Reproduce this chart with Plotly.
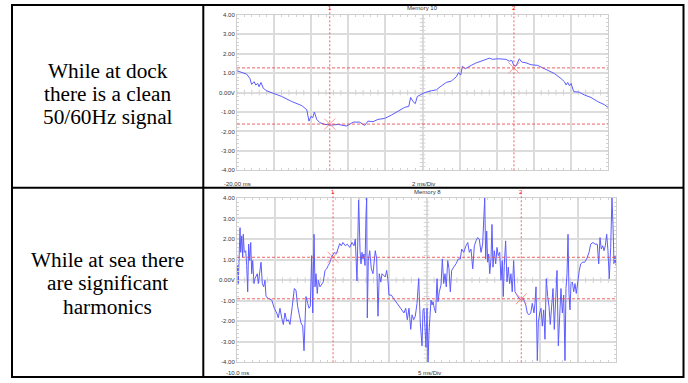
import numpy as np
import plotly.graph_objects as go

W, H = 688, 383

# ---- Dockside capture (Memory 10): time in ms, voltage in V ----
t_dock = [-20.0, -19.48, -19.30, -19.21, -19.08, -18.99, -18.88, -18.81, -18.71, -18.58,
          -18.40, -18.04, -17.59, -17.05, -16.51, -16.24, -16.12, -16.01, -15.92, -15.83,
          -15.70, -15.53, -15.26, -14.89, -14.54, -14.09, -13.73, -13.39, -13.12, -12.94,
          -12.67, -12.40, -12.04, -11.68, -11.32, -10.96, -10.74, -10.64, -10.51, -10.39,
          -10.28, -10.15, -10.06, -9.88, -9.53, -9.26, -8.99, -8.72, -8.45, -8.18,
          -8.05, -7.94, -7.85, -7.69, -7.37, -7.10, -6.74, -6.58, -6.40, -6.22,
          -5.95, -5.50, -5.32, -5.19, -5.08, -4.96, -4.87, -4.78, -4.65, -4.42,
          -4.15, -3.79, -3.52, -3.25, -2.89, -2.53, -2.35, -2.26, -2.17, -2.08,
          -1.99, -1.85, -1.55, -1.28, -0.92, -0.56, -0.20, 0.0]
v_dock = [1.12, 0.95, 0.72, 0.42, 0.56, 0.39, 0.47, 0.30, 0.52, 0.22,
          0.09, -0.03, -0.20, -0.46, -0.67, -0.88, -1.47, -1.22, -1.30, -1.00,
          -1.38, -1.55, -1.64, -1.67, -1.64, -1.72, -1.52, -1.52, -1.69, -1.47,
          -1.50, -1.38, -1.33, -1.16, -0.96, -0.76, -0.71, -0.25, -0.46, -0.57,
          -0.20, -0.12, -0.09, 0.00, 0.09, 0.14, 0.34, 0.52, 0.59, 0.81,
          1.03, 0.90, 1.35, 1.23, 1.40, 1.53, 1.65, 1.71, 1.77, 1.71,
          1.74, 1.71, 1.61, 1.66, 1.40, 1.37, 1.57, 1.74, 1.57, 1.53,
          1.43, 1.40, 1.27, 1.15, 0.98, 0.72, 0.56, 0.39, 0.52, 0.35,
          0.47, 0.05, 0.02, -0.12, -0.25, -0.46, -0.62, -0.76]

# ---- At-sea capture (Memory 8) ----
t_sea = [-10.0, -9.91, -9.83, -9.70, -9.60, -9.51, -9.38, -9.25, -9.17, -9.04,
         -8.85, -8.72, -8.59, -8.46, -8.32, -8.19, -8.06, -7.93, -7.76, -7.63,
         -7.49, -7.32, -7.19, -7.01, -6.83, -6.66, -6.48, -6.31, -6.17, -5.87,
         -5.42, -5.08, -4.76, -4.55, -4.33, -4.10, -3.89, -3.67, -3.44, -3.23,
         -3.01, -2.71, -2.44, -2.22, -2.00, -1.78, -1.56, -1.33, -1.16, -1.03,
         -0.90, -0.67, -0.50, -0.33, -0.15, -0.01, 0.16, 0.29, 0.42, 0.59,
         0.73, 0.95, 1.17, 1.38, 1.61, 1.83, 2.04, 2.27, 2.44, 2.89,
         3.10, 3.32, 3.55, 3.76, 3.98, 4.29, 4.55, 4.87, 5.17, 5.44,
         5.61, 5.83, 5.96, 6.05, 6.23, 6.36, 6.49, 6.62, 6.75, 6.89,
         7.02, 7.11, 7.19, 7.32, 7.51, 7.72, 7.94, 8.07, 8.24, 8.43,
         8.60, 8.77, 8.96, 9.13, 9.35, 9.56, 9.75, 9.92, 10.05, 10.36,
         10.80, 11.24, 11.67, 12.03, 12.26, 12.47, 12.69, 12.92, 13.09, 13.31,
         13.52, 13.75, 13.97, 14.18, 14.41, 14.54, 14.67, 14.80, 14.93, 15.07,
         15.20, 15.33, 15.46, 15.59, 15.73, 15.86, 16.03, 16.21, 16.39, 16.52,
         16.69, 16.91, 17.09, 17.27, 17.44, 17.61, 17.80, 17.97, 18.14, 18.32,
         18.59, 18.89, 19.20, 19.46, 19.64, 19.91, 20.21, 20.44, 20.65, 20.87,
         21.10, 21.31, 21.53, 21.75, 21.96, 22.19, 22.41, 22.54, 22.68, 22.81,
         22.94, 23.07, 23.20, 23.34, 23.51, 23.64, 23.77, 23.94, 24.13, 24.30,
         24.47, 24.66, 24.83, 25.00, 25.13, 25.26, 25.44, 25.62, 25.79, 25.97,
         26.14, 26.31, 26.50, 26.67, 26.90, 27.20, 27.51, 27.77, 28.09, 28.30,
         28.52, 28.75, 28.96, 29.18, 29.31, 29.45, 29.62, 29.75, 29.93, 30.11,
         30.28, 30.46, 30.63, 30.80, 30.99, 31.16, 31.33, 31.52, 31.69, 31.86,
         32.04, 32.22, 32.39, 32.57, 32.74, 32.92, 33.10, 33.27, 33.40, 33.54,
         33.67, 33.80, 33.93, 34.06, 34.24, 34.42, 34.59, 34.76, 34.95, 35.16,
         35.34, 35.61, 35.87, 36.13, 36.44, 36.66, 36.97, 37.23, 37.53, 37.72,
         37.89, 38.06, 38.25, 38.42, 38.59, 38.77, 38.94, 39.11, 39.30, 39.47,
         39.60, 39.74, 39.87, 40.00]
v_sea = [0.31, 0.71, -0.17, 1.03, 2.55, 1.35, 2.15, 1.11, 2.23, 1.35,
         1.43, 0.71, -0.57, 1.75, 0.95, 1.83, 0.31, 0.95, -0.17, 0.07,
         0.23, 0.31, -0.17, 0.39, 0.87, -0.17, -0.33, -0.01, -0.80, -0.89,
         -0.97, -1.37, -1.60, -1.84, -1.37, -1.84, -2.16, -1.60, -2.00, -1.93,
         -2.16, -1.28, -0.41, -0.49, -1.28, -1.69, -2.08, -2.24, -3.44, -2.08,
         -0.80, -1.13, -1.37, -1.28, 1.19, -1.60, 2.23, -0.33, 0.31, -0.65,
         -0.01, -0.33, -0.17, -0.09, 0.47, 0.55, 0.71, 0.87, 1.11, 1.35,
         1.27, 1.59, 1.78, 1.67, 1.83, 1.67, 1.75, 1.59, 1.83, 1.67,
         1.99, -0.04, 2.23, 4.00, 1.43, 0.79, 1.35, 1.03, 1.27, 0.71,
         3.19, 4.00, -1.84, 0.95, 1.43, 0.55, 0.31, 1.03, 1.43, 1.03,
         -1.76, 0.31, -0.09, 0.31, 0.23, 0.15, 0.47, -0.01, -0.73, -0.73,
         -0.97, -1.21, -1.45, -1.60, -1.37, -1.93, -1.37, -2.40, -1.69, -1.93,
         -1.76, -1.13, 0.07, -2.08, -3.20, -1.45, -1.37, -2.24, -3.28, -1.37,
         -4.00, -2.56, -1.69, -0.97, -1.21, -1.05, -1.37, -1.60, 0.07, -1.05,
         -0.57, -0.25, 1.03, -0.17, 0.31, -0.33, 0.95, 0.55, -0.57, 0.47,
         0.63, 0.79, 1.03, 1.03, 1.51, 1.35, 1.67, 1.83, 1.35, 1.51,
         0.55, 1.67, 1.91, 2.07, 1.99, 1.35, 1.75, 2.55, 4.00, 1.03,
         2.39, 0.87, 1.27, 0.31, 1.03, 2.71, 0.63, 1.43, 0.79, 1.59,
         1.19, 1.35, -0.01, 0.95, -0.80, 0.71, 1.91, -0.09, 0.63, -0.17,
         0.31, -0.57, 0.95, -0.57, -0.73, -0.89, -0.97, -0.89, -1.21, -1.60,
         -1.69, -1.60, -1.13, -1.60, -1.13, -0.33, -3.92, -2.08, -1.60, -1.37,
         -2.24, -1.45, -2.88, 0.07, -0.80, -1.28, -2.16, -0.89, -0.41, -2.40,
         -1.13, 0.47, -3.20, -1.21, -0.41, -1.60, -0.73, -3.92, -0.41, 0.31,
         2.23, -0.65, -1.45, -0.17, -0.09, -0.57, -0.17, -0.65, -0.01, 0.47,
         0.79, 0.87, 0.87, 1.03, 1.35, 1.75, 1.83, 1.75, 1.75, 0.79,
         2.07, 1.51, 1.67, 1.43, 1.67, 2.23, 1.43, 0.07, 1.59, 4.00,
         2.71, 0.79, 1.19, 0.71]

# cursor settings (time cursors in ms, voltage cursors in V)
dock_t_cursors = [-15.0, -5.07]
dock_v_cursors = [1.27, -1.62]
sea_t_cursors = [2.67, 27.5]
sea_v_cursors = [1.11, -0.91]

# screen settings
dock_range = [-20.0, 0.0]
sea_range = [-10.0, 40.0]
v_range = [-4.0, 4.0]
v_ticks = [-4, -3, -2, -1, 0, 1, 2, 3, 4]
v_ticktext = ["-4.00", "-3.00", "-2.00", "-1.00", "0.00V", "1.00", "2.00", "3.00", "4.00"]

row_text_dock = ["While at dock", "there is a clean", "50/60Hz signal"]
row_text_sea = ["While at sea there", "are significant", "harmonics"]


def px_x(p):
    return p / W


def px_y(p):
    return 1 - p / H


TRACE = "rgb(92,92,255)"
GRID = "#dcdcdc"
FRAME = "#cfcfcf"
CURSOR = "rgba(235,70,70,0.85)"
XMARK = "rgba(255,130,130,0.85)"
TICKC = "#d2d2d2"
SANS = "Liberation Sans"
SERIF = "Liberation Serif"

fig = go.Figure()

panels = [
    dict(xa="x", ya="y", t=t_dock, v=v_dock, rng=dock_range, div=2.0,
         xdom=[px_x(237), px_x(608)], ydom=[px_y(170), px_y(12)],
         tc=dock_t_cursors, vc=dock_v_cursors, cross=[dock_v_cursors[1], dock_v_cursors[0]],
         top=5, bottom=170,
         title="Memory 10", title_xy=(422, 5), left="-20.00 ms", scale="2 ms/Div",
         lab_y=184, left_x=237, scale_x=423),
    dict(xa="x2", ya="y2", t=t_sea, v=v_sea, rng=sea_range, div=5.0,
         xdom=[px_x(237), px_x(616)], ydom=[px_y(365), px_y(198)],
         tc=sea_t_cursors, vc=sea_v_cursors, cross=sea_v_cursors,
         top=192, bottom=365,
         title="Memory 8", title_xy=(427, 192), left="-10.0 ms", scale="5 ms/Div",
         lab_y=376, left_x=237, scale_x=429),
]

# left-hand description cells
for lines, yc in ((row_text_dock, [69, 92.5, 116]), (row_text_sea, [261, 284.5, 308.5])):
    for txt, y in zip(lines, yc):
        fig.add_annotation(xref="paper", yref="paper", x=px_x(107.5), y=px_y(y), text=txt,
                           showarrow=False, xanchor="center", yanchor="middle",
                           font=dict(family=SERIF, size=21.3, color="black"))

for i, p in enumerate(panels):
    sfx = "" if i == 0 else "2"
    center_t = (p["rng"][0] + p["rng"][1]) / 2

    # graticule minor ticks on the centre cross
    xs = np.arange(p["rng"][0], p["rng"][1] + 1e-9, p["div"] / 5)
    ys = np.arange(v_range[0], v_range[1] + 1e-9, 0.2)
    fig.add_trace(go.Scatter(x=xs, y=np.zeros_like(xs), mode="markers", xaxis=p["xa"], yaxis=p["ya"],
                             marker=dict(symbol="line-ns", size=4, line=dict(width=1, color=TICKC)),
                             hoverinfo="skip", showlegend=False))
    fig.add_trace(go.Scatter(x=np.full_like(ys, center_t), y=ys, mode="markers", xaxis=p["xa"], yaxis=p["ya"],
                             marker=dict(symbol="line-ew", size=4, line=dict(width=1, color=TICKC)),
                             hoverinfo="skip", showlegend=False))

    # waveform
    fig.add_trace(go.Scatter(x=p["t"], y=p["v"], mode="lines", xaxis=p["xa"], yaxis=p["ya"],
                             line=dict(color=TRACE, width=1), hoverinfo="skip", showlegend=False))

    # cursor crossings
    fig.add_trace(go.Scatter(x=p["tc"], y=p["cross"], mode="markers", xaxis=p["xa"], yaxis=p["ya"],
                             marker=dict(symbol="x-thin", size=11, line=dict(width=1, color=XMARK)),
                             hoverinfo="skip", showlegend=False))

    # trigger marker at t = 0
    fig.add_trace(go.Scatter(x=[0.0], y=[-4.12], mode="markers", xaxis=p["xa"], yaxis=p["ya"],
                             marker=dict(symbol="square", size=3, color="black"), cliponaxis=False,
                             hoverinfo="skip", showlegend=False))

    fig.update_layout(**{
        "xaxis" + sfx: dict(domain=p["xdom"], range=p["rng"], anchor=p["ya"], dtick=p["div"], tick0=p["rng"][0],
                            showgrid=True, gridcolor=GRID, gridwidth=1.5, zeroline=False,
                            showline=True, linecolor=FRAME, linewidth=1, mirror="allticks",
                            ticks="inside", ticklen=2, tickcolor=TICKC, showticklabels=False,
                            minor=dict(dtick=p["div"] / 5, ticks="inside", ticklen=2, tickcolor=TICKC,
                                       showgrid=False),
                            fixedrange=True),
        "yaxis" + sfx: dict(domain=p["ydom"], range=v_range, anchor=p["xa"], tickvals=v_ticks, ticktext=v_ticktext,
                            showgrid=True, gridcolor=GRID, gridwidth=1.5, zeroline=False,
                            showline=True, linecolor=FRAME, linewidth=1, mirror="allticks",
                            ticks="inside", ticklen=2, tickcolor=TICKC,
                            tickfont=dict(family=SANS, size=6, color="#333"),
                            minor=dict(dtick=0.2, ticks="inside", ticklen=2, tickcolor=TICKC, showgrid=False),
                            fixedrange=True),
    })

    # time cursors
    for k, tc in enumerate(p["tc"]):
        fig.add_shape(type="line", xref=p["xa"], yref="paper", x0=tc, x1=tc,
                      y0=px_y(p["bottom"]), y1=px_y(p["top"]),
                      line=dict(color=CURSOR, width=1, dash="2px,2px"))
        fig.add_annotation(xref=p["xa"], yref="paper", x=tc, y=px_y(p["top"]), text=str(k + 1),
                           showarrow=False, xanchor="center", yanchor="middle",
                           font=dict(family=SANS, size=6, color="red"))
    # voltage cursors
    for vc in p["vc"]:
        fig.add_shape(type="line", xref=p["xa"] + " domain", yref=p["ya"], x0=0, x1=1, y0=vc, y1=vc,
                      line=dict(color=CURSOR, width=1, dash="3px,2px"))

    for txt, (x, y) in ((p["title"], p["title_xy"]), (p["left"], (p["left_x"], p["lab_y"])),
                        (p["scale"], (p["scale_x"], p["lab_y"]))):
        fig.add_annotation(xref="paper", yref="paper", x=px_x(x), y=px_y(y), text=txt,
                           showarrow=False, xanchor="center", yanchor="middle",
                           font=dict(family=SANS, size=6, color="#333"))

# table rules
frame = dict(color="black", width=2)
bottom_rule = 380
fig.add_shape(type="rect", xref="paper", yref="paper", x0=px_x(12), x1=px_x(683.5),
              y0=px_y(bottom_rule), y1=px_y(2), line=frame, layer="above")
fig.add_shape(type="line", xref="paper", yref="paper", x0=px_x(203.3), x1=px_x(203.3),
              y0=px_y(bottom_rule), y1=px_y(2), line=frame, layer="above")
fig.add_shape(type="line", xref="paper", yref="paper", x0=px_x(12), x1=px_x(683.5),
              y0=px_y(187.7), y1=px_y(187.7), line=frame, layer="above")

fig.update_layout(width=W, height=H, margin=dict(l=0, r=0, t=0, b=0),
                  paper_bgcolor="white", plot_bgcolor="white", showlegend=False)

fig.write_html("out.html")
